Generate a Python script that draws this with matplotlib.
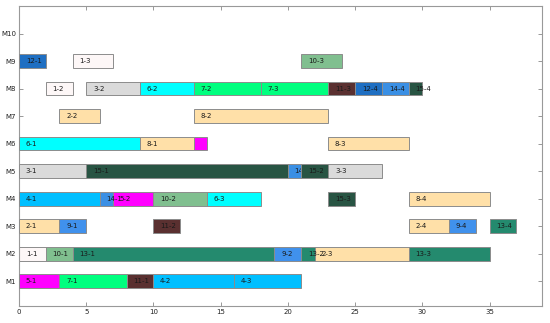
import matplotlib
matplotlib.use("Agg")
import matplotlib.pyplot as plt

# one entry per operation: machine, job, op, start, end
machines = [1, 1, 1, 1, 1,
            2, 2, 2, 2, 2, 2, 2,
            3, 3, 3, 3, 3, 3,
            4, 4, 4, 4, 4, 4, 4,
            5, 5, 5, 5, 5,
            6, 6, 6, 6,
            7, 7,
            8, 8, 8, 8, 8, 8, 8, 8, 8,
            9, 9, 9]
jobs = [5, 7, 11, 4, 4,
        1, 10, 13, 9, 13, 2, 13,
        2, 9, 11, 2, 9, 13,
        4, 14, 5, 10, 6, 15, 8,
        3, 15, 14, 15, 3,
        6, 8, 5, 8,
        2, 8,
        1, 3, 6, 7, 7, 11, 12, 14, 15,
        12, 1, 10]
ops = [1, 1, 1, 2, 3,
       1, 1, 1, 2, 2, 3, 3,
       1, 1, 2, 4, 4, 4,
       1, 1, 2, 2, 3, 3, 4,
       1, 1, 2, 2, 3,
       1, 1, 3, 3,
       2, 2,
       2, 2, 2, 2, 3, 3, 4, 4, 4,
       1, 3, 3]
starts = [0, 3, 8, 10, 16,
          0, 2, 4, 19, 21, 22, 29,
          0, 3, 10, 29, 32, 35,
          0, 6, 7, 10, 14, 23, 29,
          0, 5, 20, 21, 23,
          0, 9, 13, 23,
          3, 13,
          2, 5, 9, 13, 18, 23, 25, 27, 29,
          0, 4, 21]
ends = [3, 8, 10, 16, 21,
        2, 4, 19, 21, 22, 29, 35,
        3, 5, 12, 32, 34, 37,
        6, 7, 10, 14, 18, 25, 35,
        5, 20, 21, 23, 27,
        9, 13, 14, 29,
        6, 23,
        4, 9, 13, 18, 23, 25, 27, 29, 30,
        2, 7, 24]
hidden_labels = [(5, 3)]

machine_names = ["M%d" % i for i in range(1, 11)]

job_colors = {
    1: "#fdf7f7", 2: "#ffe0a8", 3: "#dadada", 4: "#00bfff", 5: "#ff00ff",
    6: "#00ffff", 7: "#00ff7f", 8: "#ffe0a8", 9: "#4091ec", 10: "#80bf8f",
    11: "#5a3030", 12: "#1f6fc2", 13: "#248a6e", 14: "#3a8fe4", 15: "#285443",
}

fig = plt.figure(figsize=(5.5, 3.23), dpi=100)
ax = fig.add_axes([19 / 550, 17 / 323, 523 / 550, 300 / 323])

# draw job by job so later jobs sit on top of earlier labels
order = sorted(range(len(jobs)), key=lambda i: (jobs[i], ops[i]))
z = 2
for i in order:
    ax.barh(machines[i], ends[i] - starts[i], left=starts[i], height=0.5,
            color=job_colors[jobs[i]], edgecolor="#8c8c8c", linewidth=0.7,
            zorder=z)
    if (jobs[i], ops[i]) not in hidden_labels:
        ax.text(starts[i] + 0.5, machines[i], "%d-%d" % (jobs[i], ops[i]),
                fontsize=5, ha="left", va="center", color="#1a1a1a",
                zorder=z + 1)
    z += 2

ax.set_xlim(0, 38.9)
ax.set_ylim(0.1, 11)
ax.set_xticks(range(0, 36, 5))
ax.set_yticks(range(1, 11))
ax.set_yticklabels(machine_names)
ax.tick_params(direction="in", length=3, width=0.6, color="#888888",
               labelsize=5, labelcolor="#222222", top=True, right=True, pad=2)
for s in ax.spines.values():
    s.set_color("#999999")
    s.set_linewidth(0.8)

fig.savefig("out.png", dpi=100)
